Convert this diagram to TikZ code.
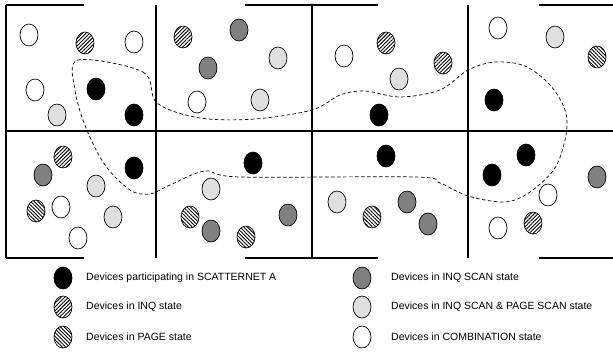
\documentclass[tikz,border=0pt]{standalone}
\usepackage{fontspec}
\setmainfont{Liberation Sans}
\usetikzlibrary{shapes.geometric,patterns.meta}
\begin{document}
\begin{tikzpicture}[x=1pt,y=-1pt,
  dev/.style={ellipse,draw,line width=0.7pt,minimum width=18pt,minimum height=22pt,inner sep=0pt},
  sca/.style={dev,fill=black},
  inq/.style={dev,pattern={Lines[angle=45,distance=2.6pt,line width=0.9pt]}},
  pag/.style={dev,pattern={Lines[angle=-45,distance=2.6pt,line width=0.9pt]}},
  isc/.style={dev,fill=gray},
  ips/.style={dev,fill=gray!25},
  cmb/.style={dev,fill=white},
  gridline/.style={line width=1.2pt},
  bound/.style={dash pattern=on 3.5pt off 2.5pt,line width=0.7pt},
  lbl/.style={anchor=west,font=\fontsize{10.5}{12}\selectfont,inner sep=0pt}]
\useasboundingbox (0,0) rectangle (613,351);
% grid
\draw[gridline] (6,5)--(84,5) (245,5)--(378,5) (539,5)--(613,5);
\draw[gridline] (6,258)--(84,258) (245,258)--(378,258) (539,258)--(613,258);
\draw[gridline] (6,5)--(6,258) (156,5)--(156,258) (312,5)--(312,258) (468,5)--(468,258);
\draw[gridline] (6,131)--(613,131);
% scatternet boundary
\draw[bound] plot[smooth cycle,tension=0.55] coordinates {
 (78,60) (143,72) (157,103) (200,118) (255,119) (312,110) (340,95) (365,91)
 (400,97) (440,90) (468,70) (495,62) (525,66) (550,85) (565,110) (566,135)
 (555,168) (530,192) (505,202) (468,196) (440,183) (415,177) (240,177)
 (205,171) (170,185) (150,194) (130,190) (105,165) (86,128) (75,90)};
% cell 1
\node[cmb] (a1) at (29,35) {};
\node[inq] (a2) at (85,43) {};
\node[cmb] (a3) at (134,42) {};
\node[cmb] (a4) at (35,90) {};
\node[sca] (a5) at (96,89) {};
\node[ips] (a6) at (57,115) {};
\node[sca] (a7) at (134,115) {};
% cell 2
\node[inq] (b1) at (183,37) {};
\node[isc] (b2) at (239,30) {};
\node[ips] (b3) at (278,58) {};
\node[isc] (b4) at (208,68) {};
\node[cmb] (b5) at (197,102) {};
\node[ips] (b6) at (260,100) {};
% cell 3
\node[cmb] (c1) at (344,56) {};
\node[inq] (c2) at (386,43) {};
\node[ips] (c3) at (399,79) {};
\node[inq] (c4) at (443,63) {};
\node[sca] (c5) at (379,115) {};
% cell 4
\node[cmb] (d1) at (498,28) {};
\node[ips] (d2) at (555,37) {};
\node[pag] (d3) at (597,57) {};
\node[sca] (d4) at (494,100) {};
% cell 5
\node[inq] (e1) at (63,157) {};
\node[isc] (e2) at (43,175) {};
\node[sca] (e3) at (134,168) {};
\node[ips] (e4) at (96,186) {};
\node[pag] (e5) at (36,211) {};
\node[cmb] (e6) at (61,207) {};
\node[ips] (e7) at (113,217) {};
\node[cmb] (e8) at (78,238) {};
% cell 6
\node[sca] (f1) at (253,163) {};
\node[ips] (f2) at (211,189) {};
\node[pag] (f3) at (190,217) {};
\node[isc] (f4) at (211,231) {};
\node[pag] (f5) at (246,237) {};
\node[isc] (f6) at (288,215) {};
% cell 7
\node[sca] (g1) at (386,156) {};
\node[ips] (g2) at (337,202) {};
\node[pag] (g3) at (372,217) {};
\node[isc] (g4) at (407,202) {};
\node[isc] (g5) at (428,224) {};
% cell 8
\node[sca] (h1) at (526,155) {};
\node[sca] (h2) at (492,175) {};
\node[isc] (h3) at (597,177) {};
\node[cmb] (h4) at (548,195) {};
\node[cmb] (h5) at (498,228) {};
\node[inq] (h6) at (533,223) {};
% legend
\node[sca] (l1) at (63,278) {};
\node[inq] (l2) at (63,307) {};
\node[pag] (l3) at (63,337) {};
\node[isc] (l4) at (362,278) {};
\node[ips] (l5) at (362,307) {};
\node[cmb] (l6) at (362,337) {};
\node[lbl] (t1) at (86,278) {Devices participating in SCATTERNET A};
\node[lbl] (t2) at (86,307) {Devices in INQ state};
\node[lbl] (t3) at (86,337) {Devices in PAGE state};
\node[lbl] (t4) at (391,278) {Devices in INQ SCAN state};
\node[lbl] (t5) at (391,307) {Devices in INQ SCAN \& PAGE SCAN state};
\node[lbl] (t6) at (391,337) {Devices in COMBINATION state};
\end{tikzpicture}
\end{document}
